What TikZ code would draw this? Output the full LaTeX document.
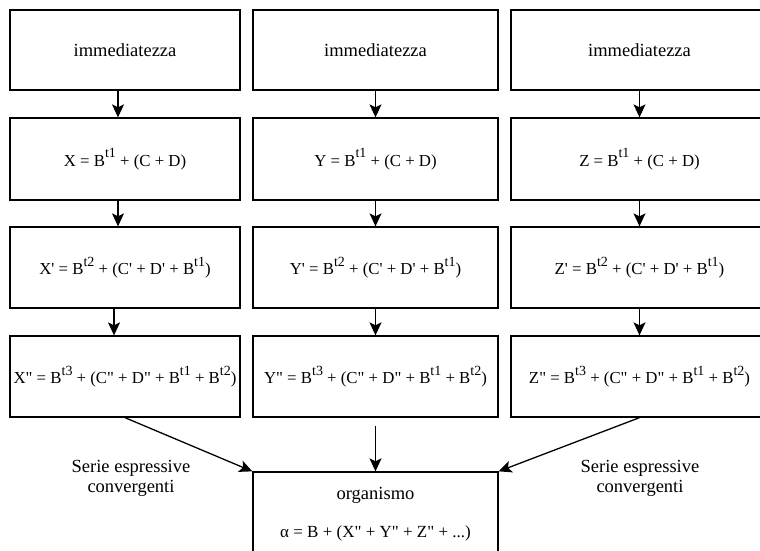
\documentclass[tikz,border=0pt]{standalone}
\usepackage{fontspec}
\setmainfont{Liberation Serif}[Ligatures=TeXOff]
\usetikzlibrary{arrows.meta}
\newcommand{\sps}[1]{\raisebox{0.5em}{\fontsize{14}{14}\selectfont #1}}
\tikzset{
  box/.style={draw, line width=1.3pt, inner sep=0pt, font=\fontsize{16.8}{20}\selectfont},
  c1/.style={box, minimum width=230pt},
  c2/.style={box, minimum width=245pt},
  c3/.style={box, minimum width=257pt},
  arr/.style={line width=1.3pt, -{Stealth[length=13pt,width=12pt,inset=3pt]}},
  lbl/.style={align=center, inner sep=0pt, font=\fontsize{18.5}{20}\selectfont},
  frm/.style={inner sep=0pt, font=\fontsize{17}{20}\selectfont}
}
\begin{document}
\begin{tikzpicture}[x=1pt,y=-1pt]
\useasboundingbox (0,0) rectangle (760,550);
\clip (0,0) rectangle (760,550);
% row 1
\node[c1, minimum height=80pt] (a1) at (125,50) {\fontsize{18.5}{20}\selectfont immediatezza};
\node[c2, minimum height=80pt] (b1) at (375.5,50) {\fontsize{18.5}{20}\selectfont immediatezza};
\node[c3, minimum height=80pt] (c1) at (639.5,50) {\fontsize{18.5}{20}\selectfont immediatezza};
% row 2
\node[c1, minimum height=82pt] (a2) at (125,159) {X = B\sps{t1} + (C + D)};
\node[c2, minimum height=82pt] (b2) at (375.5,159) {Y = B\sps{t1} + (C + D)};
\node[c3, minimum height=82pt] (c2) at (639.5,159) {Z = B\sps{t1} + (C + D)};
% row 3
\node[c1, minimum height=81pt] (a3) at (125,267.5) {X' = B\sps{t2} + (C' + D' + B\sps{t1})};
\node[c2, minimum height=81pt] (b3) at (375.5,267.5) {Y' = B\sps{t2} + (C' + D' + B\sps{t1})};
\node[c3, minimum height=81pt] (c3) at (639.5,267.5) {Z' = B\sps{t2} + (C' + D' + B\sps{t1})};
% row 4
\node[c1, minimum height=81pt] (a4) at (125,376.5) {X" = B\sps{t3} + (C" + D" + B\sps{t1} + B\sps{t2})};
\node[c2, minimum height=81pt] (b4) at (375.5,376.5) {Y" = B\sps{t3} + (C" + D" + B\sps{t1} + B\sps{t2})};
\node[c3, minimum height=81pt] (c4) at (639.5,376.5) {Z" = B\sps{t3} + (C" + D" + B\sps{t1} + B\sps{t2})};
% organismo
\node[c2, minimum height=90pt] (org) at (375.5,517) {};
\node[lbl] (orgt) at (375.5,495) {organismo};
\node[frm] (orgf) at (375.5,533) {α = B + (X" + Y" + Z" + ...)};
% labels
\node[lbl] (sl) at (131,478) {Serie espressive\\convergenti};
\node[lbl] (sr) at (640,478) {Serie espressive\\convergenti};
% arrows
\draw[arr] ([xshift=-7pt]a1.south) -- ([xshift=-7pt]a2.north);
\draw[arr] ([xshift=-7pt]a2.south) -- ([xshift=-7pt]a3.north);
\draw[arr] ([xshift=-11pt]a3.south) -- ([xshift=-11pt]a4.north);
\draw[arr] (b1.south) -- (b2.north);
\draw[arr] (b2.south) -- (b3.north);
\draw[arr] (b3.south) -- (b4.north);
\draw[arr] (c1.south) -- (c2.north);
\draw[arr] (c2.south) -- (c3.north);
\draw[arr] (c3.south) -- (c4.north);
\draw[arr] ([yshift=-8pt]b4.south) -- (org.north);
\draw[arr] (a4.south) -- (org.north west);
\draw[arr] (c4.south) -- (org.north east);
\end{tikzpicture}
\end{document}
